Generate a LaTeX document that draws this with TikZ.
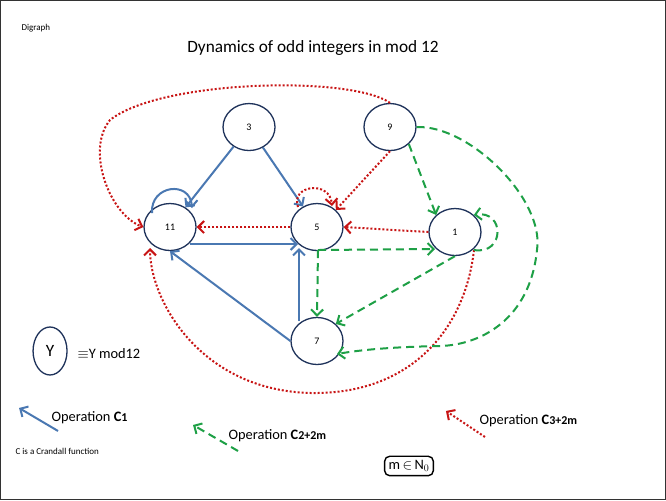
\documentclass[tikz,border=0pt]{standalone}
\usepackage{fontspec}
\setmainfont{Carlito}
\usetikzlibrary{arrows.meta,shapes.geometric}
\definecolor{bluec}{RGB}{74,120,178}
\definecolor{nodec}{RGB}{30,50,90}
\definecolor{redc}{RGB}{200,20,20}
\definecolor{greenc}{RGB}{30,160,70}
\begin{document}
\begin{tikzpicture}[x=1pt,y=-1pt,
 st/.style={draw=nodec,line width=1.3pt,ellipse,minimum width=52pt,minimum height=47pt,inner sep=0pt,font=\normalsize,fill=white},
 bl/.style={draw=bluec,line width=2pt,-{Straight Barb[length=6pt,width=12pt]}},
 rd/.style={draw=redc,line width=2pt,dotted,-{Straight Barb[length=6pt,width=12pt]}},
 gr/.style={draw=greenc,line width=2pt,dash pattern=on 8pt off 5pt,-{Straight Barb[length=6pt,width=12pt]}},
 ]
\draw[black!80,line width=1.3pt,fill=white] (0.6,0.6) rectangle (665.4,499.4);
\node[anchor=west,font=\small] (dg) at (18,28) {Digraph};
\node[font=\LARGE] (ti) at (313,48) {Dynamics of odd integers in mod 12};
\node[st] (n3) at (249,127) {3};
\node[st] (n9) at (390,127) {9};
\node[st] (n11) at (170,227) {11};
\node[st] (n5) at (317,227) {5};
\node[st] (n1) at (455,232) {1};
\node[st] (n7) at (317,341) {7};
% blue
\draw[bl] (n3) -- (n11);
\draw[bl] (n3) -- (n5);
\draw[bl] (152,213) .. controls (150,185) and (190,180) .. (192,208);
\draw[bl] (190,244) -- (298,244);
\draw[bl] (n7.west) -- (n11.south);
\draw[bl] (299,321) -- (299,248);
% red
\draw[rd] (n9.north) .. controls (350,75) and (160,80) .. (110,120) .. controls (85,150) and (110,215) .. (n11.west);
\draw[rd] (n9.south) -- (n5.north east);
\draw[rd] (298,207) .. controls (290,185) and (330,180) .. (332,206);
\draw[rd] (n5.west) -- (n11.east);
\draw[rd] (n1.west) -- (n5.east);
\draw[rd] (474,250) .. controls (465,330) and (410,395) .. (310,393) .. controls (200,390) and (150,300) .. (150,248);
% green
\draw[gr] (n9.south east) -- (n1.north west);
\draw[gr] (n9.east) .. controls (470,125) and (545,200) .. (537,250) .. controls (530,320) and (480,345) .. (440,346) .. controls (390,347) and (360,350) .. (337,354);
\draw[gr] (318,250) -- (435,249);
\draw[gr] (318,250) -- (n7.north);
\draw[gr] (n1.south) -- (n7.north east);
\draw[gr] (474,250) .. controls (505,255) and (505,210) .. (n1.north east);
% legend
\node[st,minimum width=34pt,minimum height=48pt,font=\LARGE] (y) at (50,351) {Y};
\node[anchor=west,font=\Large] (yl) at (74,354) {$\equiv$Y mod12};
\coordinate (b1) at (58,431); \coordinate (b0) at (19,408);
\draw[bl] (b1) -- (b0);
\node[anchor=west,font=\Large] (o1) at (48,418) {Operation \textbf{C}{\large\textbf 1}};
\node[anchor=west,font=\small] (cr) at (12,451) {C is a Crandall function};
\coordinate (g1) at (238,451); \coordinate (g0) at (193,425);
\draw[gr] (g1) -- (g0);
\node[anchor=west,font=\Large] (o2) at (225,436) {Operation \textbf{C}{\large\textbf{2+2m}}};
\coordinate (r1) at (485,437); \coordinate (r0) at (446,411);
\draw[rd] (r1) -- (r0);
\node[anchor=west,font=\Large] (o3) at (476,421) {Operation \textbf{C}{\large\textbf{3+2m}}};
\node[draw,rounded corners=5pt,line width=1.4pt,font=\Large\rmfamily,inner sep=4pt] (m) at (409,466) {m\,$\in$\,N$_0$};
\end{tikzpicture}
\end{document}
